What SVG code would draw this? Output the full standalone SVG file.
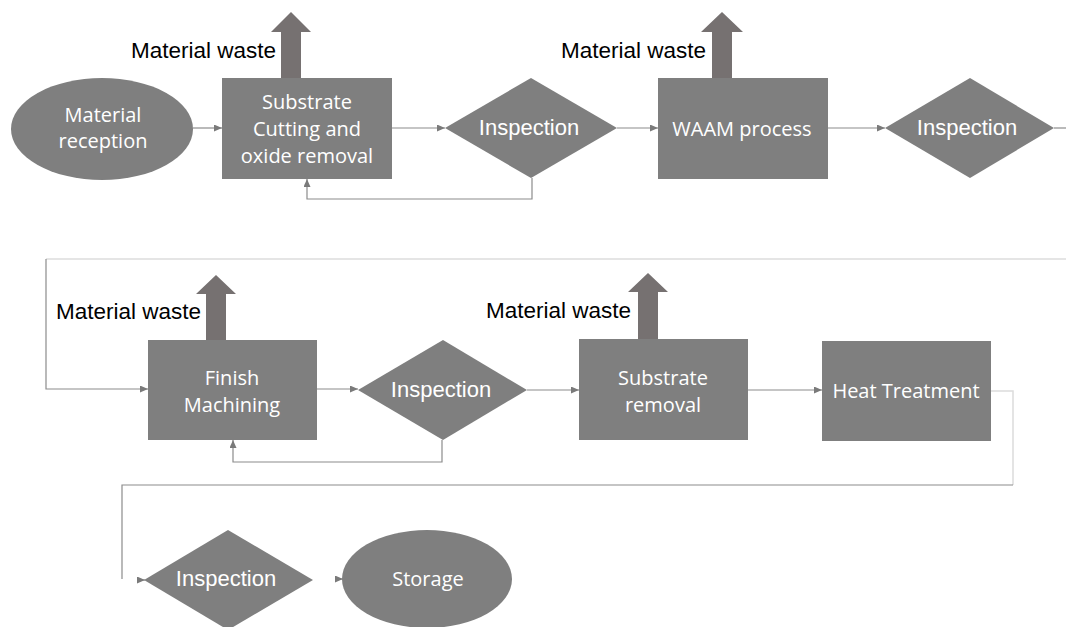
<svg xmlns="http://www.w3.org/2000/svg" width="1066" height="627" viewBox="0 0 1066 627">
<defs>
<style>
.shape{fill:#7f7f7f;}
.waste{fill:#767171;}
.lbl{font-family:"Open Sans","Liberation Sans",sans-serif;font-size:20px;fill:#ffffff;text-anchor:middle;}
.insp{font-family:"Liberation Sans",Arial,sans-serif;font-size:22px;fill:#ffffff;text-anchor:middle;}
.wt{font-family:"Liberation Sans",Arial,sans-serif;font-size:22.5px;fill:#000000;}
.c{fill:none;stroke:#8c8c8c;stroke-width:1.2;}
.cl{fill:none;stroke:#dcdcdc;stroke-width:1.5;}
</style>
<marker id="ah" markerUnits="userSpaceOnUse" markerWidth="9" markerHeight="7" refX="8" refY="3.5" orient="auto">
<path d="M0,0 L8,3.5 L0,7 z" fill="#7a7a7a"/>
</marker>
</defs>
<rect width="1066" height="627" fill="#ffffff"/>

<g id="connectors">
<path class="c" d="M193,128 H222" marker-end="url(#ah)"/>
<path class="c" d="M392,128 H445" marker-end="url(#ah)"/>
<path class="c" d="M617,128 H658" marker-end="url(#ah)"/>
<path class="c" d="M828,128 H885" marker-end="url(#ah)"/>
<path class="c" d="M1054,128 H1066"/>
<path class="c" d="M532,178 V199 H307 V179" marker-end="url(#ah)"/>
<path class="cl" d="M1066,259 H46"/>
<path class="c" d="M46,259 V389 H148" marker-end="url(#ah)"/>
<path class="c" d="M317,389 H358" marker-end="url(#ah)"/>
<path class="c" d="M442,440 V462 H233 V440" marker-end="url(#ah)"/>
<path class="c" d="M527,390 H579" marker-end="url(#ah)"/>
<path class="c" d="M748,390 H822" marker-end="url(#ah)"/>
<path class="cl" d="M991,391 H1013 V485"/>
<path class="c" d="M1013,485 H122 V579"/>
<path class="c" d="M137,580 H145" marker-end="url(#ah)"/>
<path class="c" d="M335,579 H343" marker-end="url(#ah)"/>
</g>

<g id="waste1">
<polygon class="waste" points="281,78 281,32 271,32 291,12 311,32 301,32 301,78"/>
<text class="wt" x="276" y="58" text-anchor="end">Material waste</text>
</g>
<g id="waste2">
<polygon class="waste" points="712,78 712,32 701,32 722,12 743,32 732,32 732,78"/>
<text class="wt" x="706" y="58" text-anchor="end">Material waste</text>
</g>
<g id="waste3">
<polygon class="waste" points="206,340 206,294 196,294 216,275 236,294 226,294 226,340"/>
<text class="wt" x="201" y="319" text-anchor="end">Material waste</text>
</g>
<g id="waste4">
<polygon class="waste" points="638,339 638,292 628,292 648,273 668,292 658,292 658,339"/>
<text class="wt" x="631" y="318" text-anchor="end">Material waste</text>
</g>

<g id="material-reception">
<ellipse class="shape" cx="102" cy="129" rx="91" ry="51"/>
<text class="lbl" x="103" y="122">Material</text>
<text class="lbl" x="103" y="148">reception</text>
</g>
<g id="substrate-cutting">
<rect class="shape" x="222" y="78" width="170" height="101"/>
<text class="lbl" x="307" y="109">Substrate</text>
<text class="lbl" x="307" y="136">Cutting and</text>
<text class="lbl" x="307" y="163">oxide removal</text>
</g>
<g id="inspection1">
<polygon class="shape" points="445,128 531,78 617,128 531,178"/>
<text class="insp" x="529" y="135">Inspection</text>
</g>
<g id="waam">
<rect class="shape" x="658" y="78" width="170" height="101"/>
<text class="lbl" x="742" y="136">WAAM process</text>
</g>
<g id="inspection2">
<polygon class="shape" points="885,128 970,78 1054,128 970,178"/>
<text class="insp" x="967" y="135">Inspection</text>
</g>
<g id="finish-machining">
<rect class="shape" x="148" y="340" width="169" height="100"/>
<text class="lbl" x="232" y="385">Finish</text>
<text class="lbl" x="232" y="412">Machining</text>
</g>
<g id="inspection3">
<polygon class="shape" points="358,390 443,340 527,390 443,440"/>
<text class="insp" x="441" y="397">Inspection</text>
</g>
<g id="substrate-removal">
<rect class="shape" x="579" y="339" width="169" height="101"/>
<text class="lbl" x="663" y="385">Substrate</text>
<text class="lbl" x="663" y="412">removal</text>
</g>
<g id="heat-treatment">
<rect class="shape" x="822" y="341" width="169" height="100"/>
<text class="lbl" x="906" y="398">Heat Treatment</text>
</g>
<g id="inspection4">
<polygon class="shape" points="144,580 228,530 313,580 228,630"/>
<text class="insp" x="226" y="586">Inspection</text>
</g>
<g id="storage">
<ellipse class="shape" cx="427" cy="579" rx="85" ry="49"/>
<text class="lbl" x="428" y="586">Storage</text>
</g>
</svg>
